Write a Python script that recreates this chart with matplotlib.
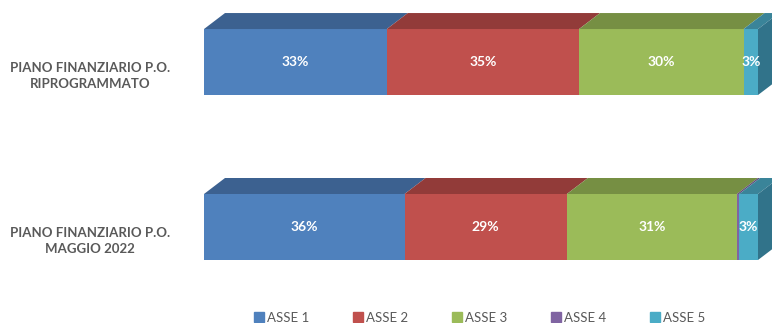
import matplotlib.pyplot as plt
from matplotlib.patches import Polygon
from matplotlib.lines import Line2D
import matplotlib.transforms as mtransforms

# Stacked 3D-style horizontal bars: share of each axis in the two financial plans
plt.rcParams['font.family'] = ['Lato', 'DejaVu Sans']

plans = ['PIANO FINANZIARIO P.O.\nRIPROGRAMMATO', 'PIANO FINANZIARIO P.O.\nMAGGIO 2022']
series = ['ASSE 1', 'ASSE 2', 'ASSE 3', 'ASSE 4', 'ASSE 5']
asse1 = [33.0, 36.2]
asse2 = [34.7, 29.3]
asse3 = [29.7, 30.7]
asse4 = [0.0, 0.4]
asse5 = [2.6, 3.4]

front = ['#4F81BD', '#C0504D', '#9BBB59', '#8064A2', '#4BACC6']
top = ['#3C6190', '#923B39', '#768F43', '#614C7B', '#3A8499']
side = '#31738A'

values = [asse1, asse2, asse3, asse4, asse5]

fig = plt.figure(figsize=(7.72, 3.23), dpi=100)
ax = fig.add_axes([204 / 772, 0, 568 / 772, 1])
ax.set_xlim(0, 100 * 568 / 554)
ax.set_ylim(1.582, -0.376)
ax.axis('off')

h = 0.4
dx = 21 * 100 / 554
dy = 16 / 165

for i, plan in enumerate(plans):
    left = 0.0
    y0 = i - h / 2
    for k in range(len(series)):
        w = values[k][i]
        if w <= 0:
            continue
        ax.barh(i, w, left=left, height=h, color=front[k], linewidth=0)
        ax.add_patch(Polygon([(left, y0), (left + w, y0), (left + w + dx, y0 - dy),
                              (left + dx, y0 - dy)], closed=True, color=top[k], lw=0))
        if w >= 1:
            ax.text(left + w / 2, i, f'{w:.0f}%', ha='center', va='center',
                    color='white', fontsize=10, fontweight='bold')
        left += w
    # right end face
    ax.add_patch(Polygon([(left, y0), (left + dx, y0 - dy), (left + dx, y0 + h - dy),
                          (left, y0 + h)], closed=True, color=side, lw=0))
    trans = mtransforms.blended_transform_factory(ax.transAxes, ax.transData)
    ax.text(-114 / 568, i + 0.085, plan, transform=trans, ha='center', va='center',
            color='#595959', fontsize=9.5, fontweight='bold', linespacing=1.35)

handles = [Line2D([], [], marker='s', linestyle='none', markersize=7,
                  markerfacecolor=c, markeredgecolor=c) for c in front]
fig.legend(handles, series, loc='center', bbox_to_anchor=(480 / 772, 1 - 318 / 323),
           ncol=5, frameon=False, handlelength=0.6, handletextpad=0.3,
           columnspacing=3.4, labelcolor='#595959',
           prop={'size': 9.5})

fig.savefig('out.png', dpi=100)
